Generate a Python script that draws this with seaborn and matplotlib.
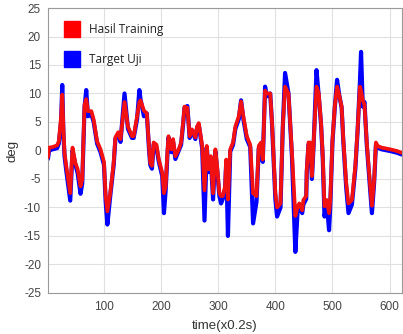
import numpy as np
import pandas as pd
import matplotlib
matplotlib.use("Agg")
import matplotlib.pyplot as plt
from matplotlib.lines import Line2D
import seaborn as sns

# time index (x0.2 s)
time = [2, 4, 10, 18, 21, 25, 27, 29, 31, 34, 38, 41, 45, 50, 54, 59, 62, 66, 69, 72,
        78, 82, 88, 94, 100, 103, 106, 111, 117, 120, 125, 129, 136, 142, 149, 152, 158, 162, 164, 170,
        175, 179, 181, 184, 187, 192, 196, 202, 205, 208, 211, 213, 218, 221, 225, 231, 235, 239, 241, 246,
        250, 254, 260, 263, 266, 272, 276, 280, 283, 287, 291, 295, 298, 302, 305, 308, 312, 314, 317, 321,
        326, 330, 336, 340, 344, 350, 356, 361, 367, 371, 375, 378, 382, 385, 391, 394, 400, 403, 409, 413,
        417, 423, 429, 435, 439, 442, 447, 449, 454, 455, 458, 461, 464, 467, 472, 476, 480, 483, 486, 490,
        494, 496, 500, 504, 508, 512, 516, 519, 524, 528, 534, 540, 544, 548, 550, 553, 556, 560, 566, 569,
        573, 576, 579, 586, 601, 613, 621]

hasil_training = [-1.2, 0.5, 0.6, 0.9, 1.6, 6.0, 9.8, 4.0, -0.4, -2.7, -5.5, -7.5, 0.5, -2.2, -3.3, -6.3, -5.1, 8.0, 9.0, 6.9,
                  6.9, 5.4, 1.6, 0.2, -2.0, -8.0, -10.7, -7.5, -2.2, 2.3, 3.2, 2.0, 8.5, 4.2, 2.5, 2.5, 6.0, 8.5, 8.8, 7.0,
                  6.5, 0.5, -2.2, -2.7, 1.4, 1.0, -1.6, -3.9, -7.5, -6.3, -0.4, 2.5, 0.2, 2.0, -1.0, 0.2, 1.4, 5.4, 7.7, 7.5,
                  2.5, 3.7, 2.3, 4.2, 4.8, 0.8, -7.0, 0.8, -3.3, -1.0, -7.5, 0.2, -2.7, -7.5, -8.0, -8.0, -6.3, -1.6, -8.6, 0.2,
                  1.4, 4.2, 6.0, 8.6, 6.0, 2.5, 1.0, -7.5, -8.0, 0.8, 1.4, -1.6, 10.5, 10.0, 10.0, 5.3, -7.5, -10.0, -9.3, 4.2,
                  11.2, 10.0, -0.4, -11.5, -9.8, -9.3, -10.5, -8.7, -8.0, -3.3, 1.4, 1.4, -4.5, 1.4, 11.2, 10.0, 4.8, -1.0, -9.8, -8.7,
                  -11.0, -9.0, 1.9, 7.7, 11.2, 9.6, 7.7, 1.9, -5.7, -9.3, -8.7, -2.7, 3.8, 11.2, 10.5, 8.8, 8.0, 1.4, -6.3, -9.7,
                  -5.0, 1.4, 0.8, 0.5, 0.2, -0.1, -0.4]

target_uji = [-1.5, 0.0, 0.2, 0.4, 1.2, 5.0, 11.5, 3.0, -1.0, -3.5, -6.5, -8.8, 0.0, -2.5, -4.0, -7.6, -5.8, 7.5, 10.6, 6.0,
              6.3, 5.0, 1.2, -0.3, -2.5, -9.0, -13.0, -8.0, -2.6, 2.0, 2.8, 1.5, 10.0, 3.8, 2.2, 2.2, 5.5, 10.6, 9.0, 6.0,
              6.5, 0.0, -2.5, -3.2, 1.0, 0.5, -2.0, -4.5, -11.0, -7.0, -1.0, 2.3, -0.3, 1.5, -1.5, 0.0, 1.0, 5.0, 7.5, 7.8,
              2.2, 3.5, 2.0, 4.0, 4.5, 0.3, -12.3, 0.5, -3.8, -1.5, -8.6, -0.2, -3.2, -8.0, -9.3, -8.5, -6.8, -2.0, -15.0, -0.2,
              1.0, 3.8, 5.5, 8.8, 5.5, 2.0, 0.6, -12.8, -9.0, 0.4, 1.0, -2.0, 11.2, 9.5, 10.0, 5.0, -8.5, -11.6, -10.0, 4.0,
              13.6, 10.0, -1.0, -17.8, -10.5, -10.0, -11.0, -9.5, -8.5, -3.8, 1.0, 1.2, -5.0, 1.0, 14.1, 9.5, 4.5, -1.5, -11.6, -9.2,
              -14.0, -10.0, 1.5, 7.5, 12.4, 9.6, 7.5, 1.5, -6.5, -11.0, -9.5, -3.2, 3.5, 12.0, 17.3, 7.7, 8.5, 1.0, -7.0, -11.0,
              -5.5, 1.0, 0.5, 0.2, -0.1, -0.4, -0.7]

labels = ["Hasil Training", "Target Uji"]
y_ticks = [-25, -20, -15, -10, -5, 0, 5, 10, 15, 20, 25]
x_ticks = [100, 200, 300, 400, 500, 600]

sns.set_style("white")
plt.rcParams['font.family'] = ['Liberation Sans', 'DejaVu Sans']
plt.rcParams['axes.unicode_minus'] = False

fig = plt.figure(figsize=(4.03, 3.34), dpi=100)
ax = fig.add_axes([0.119, 0.123, 0.879, 0.853])

df = pd.DataFrame({"t": time, "train": hasil_training, "target": target_uji})
sns.lineplot(data=df, x="t", y="target", color="#0000ff", lw=3.0, ax=ax, zorder=2)
sns.lineplot(data=df, x="t", y="train", color="#f21010", lw=2.7, ax=ax, zorder=3)

ax.set_xlim(2, 622)
ax.set_ylim(-25, 25)
ax.set_xticks(x_ticks)
ax.set_yticks(y_ticks)
ax.grid(True, color="#e0e0e0", lw=0.8)
ax.set_axisbelow(True)
for s in ax.spines.values():
    s.set_color("#9a9a9a")
    s.set_linewidth(0.8)
ax.tick_params(axis='both', labelsize=8.5, colors="#444444", length=3, direction='in', width=0.6)
ax.tick_params(axis='x', pad=6)
ax.tick_params(axis='y', pad=5)
ax.set_xlabel("time(x0.2s)", fontsize=9.5, color="#333333", labelpad=5)
ax.set_ylabel("deg", fontsize=9.5, color="#333333", labelpad=4)

handles = [Line2D([], [], ls='none', marker='s', markersize=11, markerfacecolor="#ff0000", markeredgecolor="#ff0000"),
           Line2D([], [], ls='none', marker='s', markersize=11, markerfacecolor="#0000ff", markeredgecolor="#0000ff")]
leg = ax.legend(handles, labels, loc='upper left', bbox_to_anchor=(0.02, 0.985), frameon=False,
                handlelength=1.0, handletextpad=1.0, labelspacing=1.45,
                prop={'family': ['Open Sans', 'DejaVu Sans'], 'size': 8.5})
for t in leg.get_texts():
    t.set_color("#222222")

fig.savefig("out.png", dpi=100)
